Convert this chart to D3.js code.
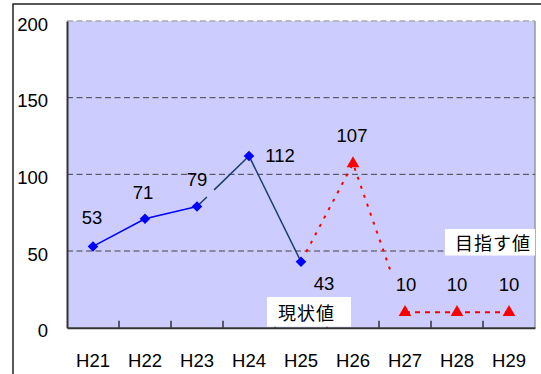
<!DOCTYPE html>
<html>
<head>
<meta charset="utf-8">
<script src="https://cdn.jsdelivr.net/npm/d3@7"></script>
<style>
  html, body { margin: 0; padding: 0; background: #fff; }
  svg { display: block; }
  .num { font-family: "Liberation Sans", Arial, sans-serif; font-size: 18.5px; fill: #000; }
  .jp { font-family: "Noto Sans CJK JP", sans-serif; font-size: 18px; fill: #000; }
</style>
</head>
<body>
<svg id="chart" width="541" height="374"></svg>
<script>
// Fiscal years (Heisei era)
const categories = ["H21", "H22", "H23", "H24", "H25", "H26", "H27", "H28", "H29"];
// Actual values (現状値)
const actualValues = [53, 71, 79, 112, 43, null, null, null, null];
// Target values (目指す値)
const targetValues = [null, null, null, null, 43, 107, 10, 10, 10];
// Y axis tick labels
const yTicks = [0, 50, 100, 150, 200];

const svg = d3.select("#chart");
const plot = { left: 67, top: 21, right: 535, bottom: 327.7 };

const x = d3.scaleBand().domain(categories).range([plot.left, plot.right]).padding(0);
const y = d3.scaleLinear().domain([0, 200]).range([plot.bottom, plot.top]);
const cx = c => x(c) + x.bandwidth() / 2;

// Outer chart frame (extends past the visible area on the right and bottom)
svg.append("rect")
  .attr("x", 13).attr("y", 4).attr("width", 600).attr("height", 500)
  .attr("fill", "none").attr("stroke", "#222").attr("stroke-width", 1.5);

// Plot background
svg.append("rect")
  .attr("x", plot.left).attr("y", plot.top)
  .attr("width", plot.right - plot.left).attr("height", plot.bottom - plot.top)
  .attr("fill", "#ccccff");

// Right edge of the plot area
svg.append("line")
  .attr("x1", plot.right).attr("x2", plot.right)
  .attr("y1", plot.top).attr("y2", plot.bottom)
  .attr("stroke", "#999").attr("stroke-width", 1.5);

// Horizontal dashed gridlines
svg.append("g").selectAll("line")
  .data(yTicks.filter(d => d > 0))
  .join("line")
  .attr("x1", plot.left).attr("x2", plot.right)
  .attr("y1", d => y(d)).attr("y2", d => y(d))
  .attr("stroke", d => d === 200 ? "#aaa" : "#444")
  .attr("stroke-width", d => d === 200 ? 1.5 : 1)
  .attr("stroke-dasharray", "6,3.5");

// Y axis
const yAxis = svg.append("g")
  .attr("transform", `translate(${plot.left},0)`)
  .call(d3.axisLeft(y).tickValues(yTicks).tickSize(0).tickPadding(19));
yAxis.select(".domain").attr("stroke", "#333").attr("stroke-width", 2);
yAxis.selectAll("text").attr("class", "num").attr("font-size", null).attr("font-family", null)
  .attr("dy", "0.5em");

// X axis
const xAxis = svg.append("g")
  .attr("transform", `translate(0,${plot.bottom})`)
  .call(d3.axisBottom(x).tickSize(0).tickPadding(26));
xAxis.select(".domain").attr("stroke", "#333").attr("stroke-width", 2);
xAxis.selectAll("text").attr("class", "num").attr("font-size", null).attr("font-family", null)
  .attr("dy", "0.71em").attr("y", 26);

// Inward tick marks at category boundaries
svg.append("g").selectAll("line")
  .data(categories.slice(1))
  .join("line")
  .attr("x1", d => x(d)).attr("x2", d => x(d))
  .attr("y1", plot.bottom).attr("y2", plot.bottom - 7)
  .attr("stroke", "#333").attr("stroke-width", 1.5);

// Helper: point for index i in a series
const pt = (values, i) => [cx(categories[i]), y(values[i])];
const lerp = (a, b, t) => [a[0] + (b[0] - a[0]) * t, a[1] + (b[1] - a[1]) * t];
const line = d3.line();

// Actual series lines
svg.append("path")
  .attr("d", line([0, 1, 2].map(i => pt(actualValues, i))))
  .attr("fill", "none").attr("stroke", "#0000ff").attr("stroke-width", 1.5);

const p23 = pt(actualValues, 2), p24 = pt(actualValues, 3), p25 = pt(actualValues, 4);
const navy = "#1a3d6e";
[[p23, lerp(p23, p24, 0.19)], [lerp(p23, p24, 0.33), p24], [p24, p25]].forEach(seg => {
  svg.append("path").attr("d", line(seg))
    .attr("fill", "none").attr("stroke", navy).attr("stroke-width", 1.5);
});

// Target series lines
const t25 = pt(targetValues, 4), t26 = pt(targetValues, 5), t27 = pt(targetValues, 6);
svg.append("path")
  .attr("d", line([lerp(t25, t26, 0.1), t26, lerp(t26, t27, 0.72)]))
  .attr("fill", "none").attr("stroke", "#ff0000").attr("stroke-width", 2)
  .attr("stroke-dasharray", "3,6.5");
svg.append("path")
  .attr("d", line([6, 7, 8].map(i => pt(targetValues, i))))
  .attr("fill", "none").attr("stroke", "#ff0000").attr("stroke-width", 2)
  .attr("stroke-dasharray", "5,5");

// Markers
const actualIdx = actualValues.map((v, i) => v == null ? null : i).filter(i => i != null);
svg.append("g").selectAll("path")
  .data(actualIdx)
  .join("path")
  .attr("transform", i => {
    const p = pt(actualValues, i);
    return `translate(${p[0]},${p[1]}) rotate(45)`;
  })
  .attr("d", d3.symbol(d3.symbolSquare, 56))
  .attr("fill", "#0000ff");

const targetIdx = [5, 6, 7, 8];
svg.append("g").selectAll("path")
  .data(targetIdx)
  .join("path")
  .attr("d", d3.symbol(d3.symbolTriangle, 70))
  .attr("transform", i => {
    const p = pt(targetValues, i);
    return `translate(${p[0]},${p[1]})`;
  })
  .attr("fill", "#ff0000");

// Value labels: offsets from each point
const actualLabelOffsets = [[-1, -22], [-2, -20], [0, -21], [31, 6], [23, 28]];
actualIdx.forEach(i => {
  const p = pt(actualValues, i);
  const o = actualLabelOffsets[i];
  svg.append("text").attr("class", "num")
    .attr("x", p[0] + o[0]).attr("y", p[1] + o[1])
    .attr("text-anchor", "middle")
    .text(actualValues[i]);
});
const targetLabelOffsets = { 5: [-1, -22], 6: [1, -21], 7: [0, -21], 8: [0, -21] };
targetIdx.forEach(i => {
  const p = pt(targetValues, i);
  const o = targetLabelOffsets[i];
  svg.append("text").attr("class", "num")
    .attr("x", p[0] + o[0]).attr("y", p[1] + o[1])
    .attr("text-anchor", "middle")
    .text(targetValues[i]);
});

// Series name boxes
function nameBox(label, bx, by, bw, bh, tx, ty) {
  svg.append("rect").attr("x", bx).attr("y", by).attr("width", bw).attr("height", bh).attr("fill", "#fff");
  svg.append("text").attr("class", "jp").attr("x", tx).attr("y", ty)
    .attr("letter-spacing", 1).text(label);
}
nameBox("目指す値", 445, 229, plot.right - 445, 26.5, 455, 250);
nameBox("現状値", 267, 297, 84, plot.bottom - 297 - 1, 278, 320);
</script>
</body>
</html>
